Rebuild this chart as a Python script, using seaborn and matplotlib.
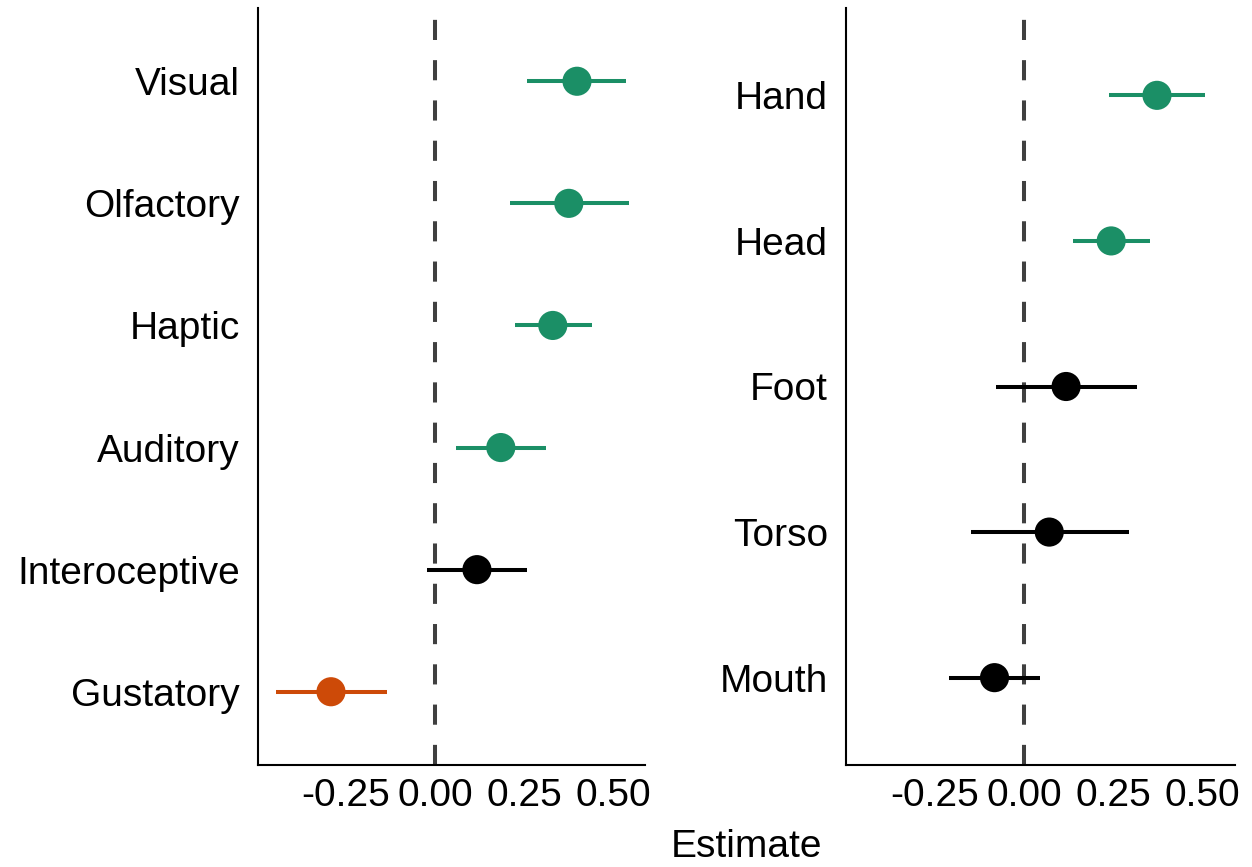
import numpy as np
import pandas as pd
import matplotlib
matplotlib.use("Agg")
import matplotlib.pyplot as plt
import seaborn as sns

# ---- data ----
senses = ["Visual", "Olfactory", "Haptic", "Auditory", "Interoceptive", "Gustatory"]
senses_est = [0.399, 0.376, 0.331, 0.185, 0.118, -0.292]
senses_lo = [0.258, 0.211, 0.225, 0.059, -0.022, -0.447]
senses_hi = [0.537, 0.545, 0.441, 0.312, 0.258, -0.135]

body = ["Hand", "Head", "Foot", "Torso", "Mouth"]
body_est = [0.372, 0.244, 0.118, 0.071, -0.082]
body_lo = [0.237, 0.137, -0.079, -0.149, -0.210]
body_hi = [0.507, 0.353, 0.317, 0.295, 0.046]

x_ticks = [-0.25, 0.00, 0.25, 0.50]
x_tick_labels = ["-0.25", "0.00", "0.25", "0.50"]

sns.set_theme(style="white")
plt.rcParams["font.family"] = ["Liberation Sans", "DejaVu Sans"]
plt.rcParams["text.color"] = "black"

palette = {"pos": "#1B8F66", "neg": "#CD4A08", "ns": "#000000"}


def sig(lo, hi):
    if lo > 0:
        return "pos"
    if hi < 0:
        return "neg"
    return "ns"


def make_df(names, est, lo, hi):
    n = len(names)
    df = pd.DataFrame({"term": names, "est": est, "lo": lo, "hi": hi})
    df["pos"] = np.arange(n)[::-1]
    df["sig"] = [sig(a, b) for a, b in zip(lo, hi)]
    return df


fig = plt.figure(figsize=(12.52, 8.67), dpi=100)
W, H = 1252, 867
ax1 = fig.add_axes([258 / W, (H - 765) / H, (645 - 258) / W, (765 - 8) / H])
ax2 = fig.add_axes([846 / W, (H - 765) / H, (1235 - 846) / W, (765 - 8) / H])

for ax, (names, est, lo, hi) in zip(
    [ax1, ax2],
    [(senses, senses_est, senses_lo, senses_hi), (body, body_est, body_lo, body_hi)],
):
    df = make_df(names, est, lo, hi)
    ax.axvline(0, color="#404040", lw=2.9, dashes=(5, 5), zorder=1)
    ax.hlines(df["pos"], df["lo"], df["hi"],
              colors=[palette[s] for s in df["sig"]], lw=2.9, zorder=2)
    sns.scatterplot(data=df, x="est", y="pos", hue="sig", palette=palette,
                    s=440, edgecolor="none", legend=False, ax=ax, zorder=3)
    n = len(names)
    ax.set_ylim(-0.6, n - 1 + 0.6)
    ax.set_xlim(-0.497, 0.59)
    ax.set_yticks(df["pos"])
    ax.set_yticklabels(df["term"])
    ax.set_xticks(x_ticks)
    ax.set_xticklabels(x_tick_labels)
    ax.set_xlabel("")
    ax.set_ylabel("")
    ax.tick_params(axis="both", length=0, labelsize=28, colors="black")
    ax.tick_params(axis="y", pad=13)
    ax.tick_params(axis="x", pad=9)
    for side in ["top", "right"]:
        ax.spines[side].set_visible(False)
    for side in ["left", "bottom"]:
        ax.spines[side].set_color("black")
        ax.spines[side].set_linewidth(1.5)
    ax.grid(False)

fig.text(746 / W, 1 - 847 / H, "Estimate", ha="center", va="center",
         fontsize=28, color="black")

fig.savefig("out.png", dpi=100, facecolor="white")
